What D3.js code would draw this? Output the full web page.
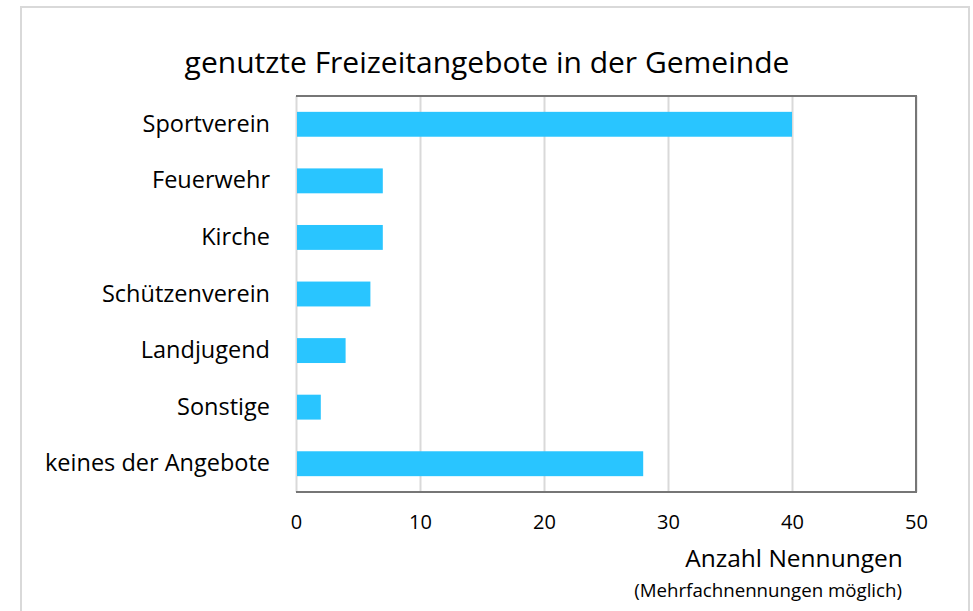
<!DOCTYPE html>
<html>
<head>
<meta charset="utf-8">
<script src="https://cdn.jsdelivr.net/npm/d3@7"></script>
<style>
    body { margin: 0; background: #fff; }
    svg text { font-family: "Open Sans", "Liberation Sans", sans-serif; fill: #000; }
</style>
</head>
<body>
<svg id="chart" width="973" height="611"></svg>
<script>
// chart data
const categories = ["Sportverein", "Feuerwehr", "Kirche", "Schützenverein", "Landjugend", "Sonstige", "keines der Angebote"]
const counts = [40, 7, 7, 6, 4, 2, 28]
const xTicks = [0, 10, 20, 30, 40, 50]
const title = "genutzte Freizeitangebote in der Gemeinde"
const xTitle = "Anzahl Nennungen"
const xNote = "(Mehrfachnennungen möglich)"

const margin = { top: 96, left: 296, right: 57, bottom: 119 }
const width = 973, height = 611
const innerWidth = width - margin.left - margin.right
const innerHeight = height - margin.top - margin.bottom

const svg = d3.select("#chart")

// outer frame (bottom edge lies below the visible area)
svg.append("path")
    .attr("d", "M21,611V7H969V611")
    .attr("fill", "none")
    .attr("stroke", "#d9d9d9")
    .attr("stroke-width", 2)

svg.append("text")
    .attr("x", 487)
    .attr("y", 73)
    .attr("text-anchor", "middle")
    .style("font-size", "30px")
    .text(title)

const g = svg.append("g").attr("transform", `translate(${margin.left}, ${margin.top})`)

const xScale = d3.scaleLinear().domain([0, 50]).range([0, innerWidth])
const yScale = d3.scaleBand().domain(categories).range([0, innerHeight]).paddingInner(0.56).paddingOuter(0.28)

// grid
const xGrid = d3.axisBottom(xScale).tickValues(xTicks).tickSize(-innerHeight).tickFormat("")
g.append("g")
    .attr("class", "x grid")
    .attr("transform", `translate(0, ${innerHeight})`)
    .call(xGrid)
    .call(s => s.select(".domain").remove())
    .call(s => s.selectAll("line").attr("stroke", "#d9d9d9").attr("stroke-width", 2))

// plot frame (top, right, bottom)
g.append("path")
    .attr("d", `M0,0H${innerWidth}V${innerHeight}H0`)
    .attr("fill", "none")
    .attr("stroke", "#767676")
    .attr("stroke-width", 2)

// bars
g.selectAll("rect.bar")
    .data(categories)
    .enter()
    .append("rect")
    .attr("class", "bar")
    .attr("x", xScale(0) + 1)
    .attr("y", d => yScale(d))
    .attr("width", (d, i) => xScale(counts[i]) - xScale(0) - 1)
    .attr("height", yScale.bandwidth())
    .attr("fill", "#29c5ff")

// x axis labels
const xAxis = d3.axisBottom(xScale).tickValues(xTicks).tickSize(0).tickPadding(23)
g.append("g")
    .attr("class", "x axis")
    .attr("transform", `translate(0, ${innerHeight})`)
    .call(xAxis)
    .call(s => s.select(".domain").remove())
    .call(s => s.selectAll("text").style("font-size", "20px").style("font-family", "'Open Sans', sans-serif"))

// y axis labels
const yAxis = d3.axisLeft(yScale).tickSize(0).tickPadding(26)
g.append("g")
    .attr("class", "y axis")
    .call(yAxis)
    .call(s => s.select(".domain").remove())
    .call(s => s.selectAll("text").style("font-size", "23.5px").style("font-family", "'Open Sans', sans-serif"))

// axis titles
svg.append("text")
    .attr("x", 794)
    .attr("y", 567)
    .attr("text-anchor", "middle")
    .style("font-size", "24.5px")
    .text(xTitle)

svg.append("text")
    .attr("x", 902)
    .attr("y", 597)
    .attr("text-anchor", "end")
    .style("font-size", "18.7px")
    .text(xNote)
</script>
</body>
</html>
